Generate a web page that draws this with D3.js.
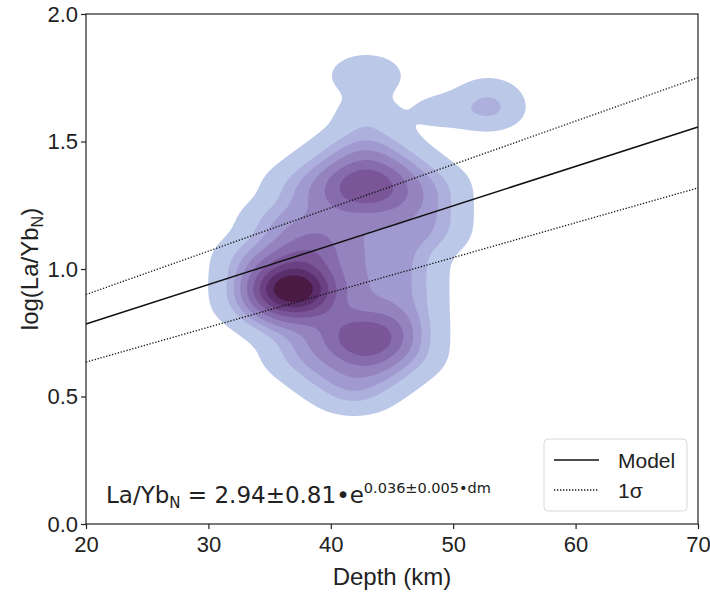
<!DOCTYPE html>
<html>
<head>
<meta charset="utf-8">
<script src="https://cdn.jsdelivr.net/npm/d3@7"></script>
<style>
body { margin: 0; background: #fff; }
text { font-family: "Liberation Sans", Arial, sans-serif; }
</style>
</head>
<body>
<svg id="svg" width="710" height="592"></svg>
<script>
// sample counts binned on a depth x log(La/Yb_N) grid
var binDepth = [32.9, 34.9, 36.9, 38.9, 40.9, 42.9, 44.9, 46.9, 48.9, 50.9, 52.9]
var binRatio = [1.76, 1.69, 1.62, 1.55, 1.48, 1.41, 1.34, 1.27, 1.20, 1.13,
	1.06, 0.99, 0.92, 0.85, 0.78, 0.71, 0.64, 0.57, 0.50]
var binCount = [
	[0, 0, 0, 0, 0, 2, 0, 0, 0, 0, 0],
	[0, 0, 0, 0, 0, 0, 0, 0, 0, 0, 1],
	[0, 0, 0, 0, 0, 1, 0, 0, 1, 0, 2],
	[0, 0, 0, 0, 0, 1, 0, 0, 0, 0, 0],
	[0, 0, 0, 0, 1, 1, 1, 0, 0, 0, 0],
	[0, 0, 0, 1, 1, 2, 1, 1, 0, 0, 0],
	[0, 0, 1, 1, 2, 3, 2, 1, 1, 0, 0],
	[0, 0, 1, 1, 2, 2, 2, 1, 1, 0, 0],
	[0, 1, 1, 1, 1, 1, 1, 1, 1, 0, 0],
	[0, 1, 1, 2, 1, 1, 1, 1, 1, 0, 0],
	[1, 1, 2, 2, 1, 1, 1, 1, 0, 0, 0],
	[1, 2, 3, 2, 1, 1, 1, 1, 0, 0, 0],
	[1, 3, 6, 3, 1, 1, 1, 1, 0, 0, 0],
	[1, 2, 3, 2, 1, 1, 1, 1, 0, 0, 0],
	[0, 1, 1, 1, 2, 2, 2, 1, 0, 0, 0],
	[0, 0, 1, 1, 2, 3, 2, 1, 0, 0, 0],
	[0, 0, 1, 1, 1, 2, 1, 1, 0, 0, 0],
	[0, 0, 0, 1, 1, 1, 1, 0, 0, 0, 0],
	[0, 0, 0, 0, 1, 1, 0, 0, 0, 0, 0]
]

// density at each filled contour level (kernel-height units)
var levelValue = [0.6, 2.15, 3.2, 4.3, 5.6, 7.0, 8.5, 10.0, 11.6]
var levelColor = ["#bbc8e8", "#adb0dd", "#a09ad0", "#9483bf", "#876cad",
	"#7a5699", "#6b4184", "#5a2d6b", "#4a1a44"]

// regression lines
var lineDepth = [20, 70]
var modelLine = [0.784, 1.557]
var upperLine = [0.90, 1.75]
var lowerLine = [0.635, 1.318]

var xTicks = [20, 30, 40, 50, 60, 70]
var yTicks = [0.0, 0.5, 1.0, 1.5, 2.0]

var svg = d3.select("#svg")
var plotL = 86, plotR = 698, plotT = 14, plotB = 524

var x = d3.scaleLinear().domain([20, 70]).range([plotL, plotR])
var y = d3.scaleLinear().domain([0, 2]).range([plotB, plotT])

// samples as pixel points with their counts
var pts = []
binRatio.forEach(function (r, j) {
	binDepth.forEach(function (d, i) {
		if (binCount[j][i] > 0) pts.push([x(d), y(r), binCount[j][i]])
	})
})

// kde on a pixel grid, anisotropic gaussian kernel
var step = 2, sx = 22, sy = 13
var gw = Math.ceil((plotR - plotL) / step), gh = Math.ceil((plotB - plotT) / step)
var grid = new Float64Array(gw * gh)
for (var j = 0; j < gh; j++) {
	var py = plotT + (j + 0.5) * step
	for (var i = 0; i < gw; i++) {
		var px = plotL + (i + 0.5) * step, s = 0
		for (var k = 0; k < pts.length; k++) {
			var dx = (px - pts[k][0]) / sx, dy = (py - pts[k][1]) / sy
			s += pts[k][2] * Math.exp(-0.5 * (dx * dx + dy * dy))
		}
		grid[j * gw + i] = s
	}
}

var contours = d3.contours().size([gw, gh]).thresholds(levelValue)(grid)
var proj = d3.geoIdentity().scale(step).translate([plotL, plotT])
var path = d3.geoPath(proj)

svg.append("g").selectAll("path")
	.data(contours)
	.enter().append("path")
	.attr("d", path)
	.style("fill", function (d, i) { return levelColor[i] })
	.style("stroke", "none")

// lines
function drawLine(vals, dash) {
	svg.append("line")
		.attr("x1", x(lineDepth[0])).attr("y1", y(vals[0]))
		.attr("x2", x(lineDepth[1])).attr("y2", y(vals[1]))
		.style("stroke", "#111")
		.style("stroke-width", dash ? 1.3 : 1.5)
		.style("stroke-dasharray", dash ? "1.3,1.7" : null)
}
drawLine(modelLine, false)
drawLine(upperLine, true)
drawLine(lowerLine, true)

// axes
svg.append("g").attr("transform", "translate(0," + plotB + ")")
	.call(d3.axisBottom(x).tickValues(xTicks).tickSize(5).tickPadding(7).tickFormat(d3.format("d")))
svg.append("g").attr("transform", "translate(" + plotL + ",0)")
	.call(d3.axisLeft(y).tickValues(yTicks).tickSize(5).tickPadding(3).tickFormat(d3.format(".1f")))
svg.selectAll(".domain").remove()
svg.selectAll(".tick line").style("stroke", "#222").style("stroke-width", 1.2)
svg.selectAll(".tick text").style("font-family", "Liberation Sans, Arial, sans-serif")
	.style("font-size", "22px").style("fill", "#222")

svg.append("rect")
	.attr("x", plotL).attr("y", plotT)
	.attr("width", plotR - plotL).attr("height", plotB - plotT)
	.style("fill", "none").style("stroke", "#222").style("stroke-width", 1.2)

svg.append("text")
	.attr("x", (plotL + plotR) / 2).attr("y", 585)
	.attr("text-anchor", "middle")
	.style("font-size", "24px").style("fill", "#222")
	.text("Depth (km)")

var yl = svg.append("text")
	.attr("transform", "translate(38," + ((plotT + plotB) / 2) + ") rotate(-90)")
	.attr("text-anchor", "middle")
	.style("font-size", "24px").style("fill", "#222")
yl.append("tspan").text("log(La/Yb")
yl.append("tspan").attr("dy", 5).style("font-size", "16px").text("N")
yl.append("tspan").attr("dy", -5).text(")")

// equation
var eq = svg.append("text")
	.attr("x", 106).attr("y", 503)
	.style("font-family", "DejaVu Sans, sans-serif")
	.style("font-size", "23px").style("fill", "#222")
eq.append("tspan").text("La/Yb")
eq.append("tspan").attr("dy", 5).style("font-size", "15px").text("N")
eq.append("tspan").attr("dy", -5).text(" = 2.94\u00b10.81\u2022e")
eq.append("tspan").attr("dy", -10).style("font-size", "14.5px").text("0.036\u00b10.005\u2022dm")

// legend
var lg = svg.append("g")
lg.append("rect")
	.attr("x", 544).attr("y", 439).attr("width", 143).attr("height", 72)
	.attr("rx", 4)
	.style("fill", "#fff").style("fill-opacity", 0.8)
	.style("stroke", "#d8d8d8").style("stroke-width", 1)
lg.append("line").attr("x1", 554).attr("x2", 599).attr("y1", 460).attr("y2", 460)
	.style("stroke", "#111").style("stroke-width", 1.5)
lg.append("line").attr("x1", 554).attr("x2", 599).attr("y1", 490).attr("y2", 490)
	.style("stroke", "#111").style("stroke-width", 1.3).style("stroke-dasharray", "1.3,1.7")
lg.append("text").attr("x", 618).attr("y", 468)
	.style("font-size", "21px").style("fill", "#222").text("Model")
lg.append("text").attr("x", 618).attr("y", 498)
	.style("font-size", "21px").style("fill", "#222").text("1\u03c3")
</script>
</body>
</html>
